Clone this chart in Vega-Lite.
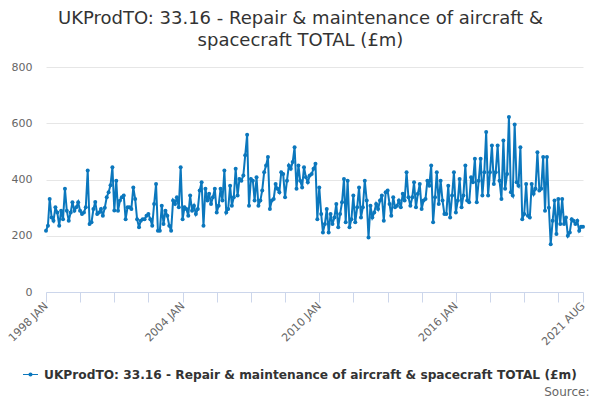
{
  "$schema": "https://vega.github.io/schema/vega-lite/v6.json",
  "width": 537,
  "height": 225,
  "autosize": "none",
  "padding": {"left": 46, "top": 67, "right": 17, "bottom": 108},
  "background": "white",
  "config": {
    "font": "DejaVu Sans",
    "view": {"stroke": null}
  },
  "title": {
    "text": ["UKProdTO: 33.16 - Repair & maintenance of aircraft &", "spacecraft TOTAL (£m)"],
    "fontSize": 18,
    "fontWeight": "normal",
    "color": "#333333",
    "anchor": "middle",
    "frame": "group",
    "dx": -14,
    "offset": 11,
    "lineHeight": 22
  },
  "data": {
    "values": [
      {"date": "1998-01-01", "value": 218}, {"date": "1998-02-01", "value": 236}, {"date": "1998-03-01", "value": 331}, {"date": "1998-04-01", "value": 265},
      {"date": "1998-05-01", "value": 253}, {"date": "1998-06-01", "value": 301}, {"date": "1998-07-01", "value": 283}, {"date": "1998-08-01", "value": 236},
      {"date": "1998-09-01", "value": 289}, {"date": "1998-10-01", "value": 259}, {"date": "1998-11-01", "value": 367}, {"date": "1998-12-01", "value": 289},
      {"date": "1999-01-01", "value": 253}, {"date": "1999-02-01", "value": 283}, {"date": "1999-03-01", "value": 319}, {"date": "1999-04-01", "value": 289},
      {"date": "1999-05-01", "value": 301}, {"date": "1999-06-01", "value": 319}, {"date": "1999-07-01", "value": 289}, {"date": "1999-08-01", "value": 277},
      {"date": "1999-09-01", "value": 283}, {"date": "1999-10-01", "value": 301}, {"date": "1999-11-01", "value": 432}, {"date": "1999-12-01", "value": 242},
      {"date": "2000-01-01", "value": 248}, {"date": "2000-02-01", "value": 295}, {"date": "2000-03-01", "value": 320}, {"date": "2000-04-01", "value": 277},
      {"date": "2000-05-01", "value": 283}, {"date": "2000-06-01", "value": 295}, {"date": "2000-07-01", "value": 271}, {"date": "2000-08-01", "value": 300},
      {"date": "2000-09-01", "value": 337}, {"date": "2000-10-01", "value": 355}, {"date": "2000-11-01", "value": 380}, {"date": "2000-12-01", "value": 444},
      {"date": "2001-01-01", "value": 290}, {"date": "2001-02-01", "value": 396}, {"date": "2001-03-01", "value": 289}, {"date": "2001-04-01", "value": 325},
      {"date": "2001-05-01", "value": 337}, {"date": "2001-06-01", "value": 343}, {"date": "2001-07-01", "value": 259}, {"date": "2001-08-01", "value": 301},
      {"date": "2001-09-01", "value": 301}, {"date": "2001-10-01", "value": 295}, {"date": "2001-11-01", "value": 372}, {"date": "2001-12-01", "value": 331},
      {"date": "2002-01-01", "value": 259}, {"date": "2002-02-01", "value": 230}, {"date": "2002-03-01", "value": 253}, {"date": "2002-04-01", "value": 259},
      {"date": "2002-05-01", "value": 259}, {"date": "2002-06-01", "value": 271}, {"date": "2002-07-01", "value": 277}, {"date": "2002-08-01", "value": 259},
      {"date": "2002-09-01", "value": 236}, {"date": "2002-10-01", "value": 313}, {"date": "2002-11-01", "value": 384}, {"date": "2002-12-01", "value": 218},
      {"date": "2003-01-01", "value": 218}, {"date": "2003-02-01", "value": 307}, {"date": "2003-03-01", "value": 242}, {"date": "2003-04-01", "value": 289},
      {"date": "2003-05-01", "value": 271}, {"date": "2003-06-01", "value": 236}, {"date": "2003-07-01", "value": 218}, {"date": "2003-08-01", "value": 325},
      {"date": "2003-09-01", "value": 313}, {"date": "2003-10-01", "value": 337}, {"date": "2003-11-01", "value": 301}, {"date": "2003-12-01", "value": 444},
      {"date": "2004-01-01", "value": 259}, {"date": "2004-02-01", "value": 301}, {"date": "2004-03-01", "value": 295}, {"date": "2004-04-01", "value": 271},
      {"date": "2004-05-01", "value": 343}, {"date": "2004-06-01", "value": 289}, {"date": "2004-07-01", "value": 307}, {"date": "2004-08-01", "value": 277},
      {"date": "2004-09-01", "value": 295}, {"date": "2004-10-01", "value": 361}, {"date": "2004-11-01", "value": 390}, {"date": "2004-12-01", "value": 236},
      {"date": "2005-01-01", "value": 367}, {"date": "2005-02-01", "value": 325}, {"date": "2005-03-01", "value": 349}, {"date": "2005-04-01", "value": 313},
      {"date": "2005-05-01", "value": 337}, {"date": "2005-06-01", "value": 367}, {"date": "2005-07-01", "value": 283}, {"date": "2005-08-01", "value": 307},
      {"date": "2005-09-01", "value": 367}, {"date": "2005-10-01", "value": 325}, {"date": "2005-11-01", "value": 432}, {"date": "2005-12-01", "value": 283},
      {"date": "2006-01-01", "value": 295}, {"date": "2006-02-01", "value": 378}, {"date": "2006-03-01", "value": 307}, {"date": "2006-04-01", "value": 337},
      {"date": "2006-05-01", "value": 438}, {"date": "2006-06-01", "value": 343}, {"date": "2006-07-01", "value": 402}, {"date": "2006-08-01", "value": 396},
      {"date": "2006-09-01", "value": 414}, {"date": "2006-10-01", "value": 486}, {"date": "2006-11-01", "value": 559}, {"date": "2006-12-01", "value": 307},
      {"date": "2007-01-01", "value": 402}, {"date": "2007-02-01", "value": 396}, {"date": "2007-03-01", "value": 325}, {"date": "2007-04-01", "value": 408},
      {"date": "2007-05-01", "value": 307}, {"date": "2007-06-01", "value": 325}, {"date": "2007-07-01", "value": 361}, {"date": "2007-08-01", "value": 426},
      {"date": "2007-09-01", "value": 450}, {"date": "2007-10-01", "value": 480}, {"date": "2007-11-01", "value": 295}, {"date": "2007-12-01", "value": 325},
      {"date": "2008-01-01", "value": 331}, {"date": "2008-02-01", "value": 384}, {"date": "2008-03-01", "value": 367}, {"date": "2008-04-01", "value": 355},
      {"date": "2008-05-01", "value": 426}, {"date": "2008-06-01", "value": 420}, {"date": "2008-07-01", "value": 337}, {"date": "2008-08-01", "value": 396},
      {"date": "2008-09-01", "value": 450}, {"date": "2008-10-01", "value": 438}, {"date": "2008-11-01", "value": 462}, {"date": "2008-12-01", "value": 515},
      {"date": "2009-01-01", "value": 367}, {"date": "2009-02-01", "value": 450}, {"date": "2009-03-01", "value": 396}, {"date": "2009-04-01", "value": 372},
      {"date": "2009-05-01", "value": 444}, {"date": "2009-06-01", "value": 408}, {"date": "2009-07-01", "value": 390}, {"date": "2009-08-01", "value": 414},
      {"date": "2009-09-01", "value": 420}, {"date": "2009-10-01", "value": 438}, {"date": "2009-11-01", "value": 456}, {"date": "2009-12-01", "value": 259},
      {"date": "2010-01-01", "value": 372}, {"date": "2010-02-01", "value": 277}, {"date": "2010-03-01", "value": 212}, {"date": "2010-04-01", "value": 242},
      {"date": "2010-05-01", "value": 295}, {"date": "2010-06-01", "value": 212}, {"date": "2010-07-01", "value": 277}, {"date": "2010-08-01", "value": 242},
      {"date": "2010-09-01", "value": 265}, {"date": "2010-10-01", "value": 313}, {"date": "2010-11-01", "value": 230}, {"date": "2010-12-01", "value": 277},
      {"date": "2011-01-01", "value": 319}, {"date": "2011-02-01", "value": 402}, {"date": "2011-03-01", "value": 248}, {"date": "2011-04-01", "value": 396},
      {"date": "2011-05-01", "value": 230}, {"date": "2011-06-01", "value": 259}, {"date": "2011-07-01", "value": 343}, {"date": "2011-08-01", "value": 248},
      {"date": "2011-09-01", "value": 301}, {"date": "2011-10-01", "value": 372}, {"date": "2011-11-01", "value": 265}, {"date": "2011-12-01", "value": 301},
      {"date": "2012-01-01", "value": 396}, {"date": "2012-02-01", "value": 325}, {"date": "2012-03-01", "value": 194}, {"date": "2012-04-01", "value": 307},
      {"date": "2012-05-01", "value": 265}, {"date": "2012-06-01", "value": 283}, {"date": "2012-07-01", "value": 313}, {"date": "2012-08-01", "value": 295},
      {"date": "2012-09-01", "value": 325}, {"date": "2012-10-01", "value": 343}, {"date": "2012-11-01", "value": 253}, {"date": "2012-12-01", "value": 355},
      {"date": "2013-01-01", "value": 361}, {"date": "2013-02-01", "value": 313}, {"date": "2013-03-01", "value": 271}, {"date": "2013-04-01", "value": 337},
      {"date": "2013-05-01", "value": 301}, {"date": "2013-06-01", "value": 307}, {"date": "2013-07-01", "value": 325}, {"date": "2013-08-01", "value": 301},
      {"date": "2013-09-01", "value": 349}, {"date": "2013-10-01", "value": 325}, {"date": "2013-11-01", "value": 426}, {"date": "2013-12-01", "value": 337},
      {"date": "2014-01-01", "value": 307}, {"date": "2014-02-01", "value": 337}, {"date": "2014-03-01", "value": 390}, {"date": "2014-04-01", "value": 301},
      {"date": "2014-05-01", "value": 349}, {"date": "2014-06-01", "value": 384}, {"date": "2014-07-01", "value": 295}, {"date": "2014-08-01", "value": 325},
      {"date": "2014-09-01", "value": 331}, {"date": "2014-10-01", "value": 396}, {"date": "2014-11-01", "value": 378}, {"date": "2014-12-01", "value": 450},
      {"date": "2015-01-01", "value": 248}, {"date": "2015-02-01", "value": 337}, {"date": "2015-03-01", "value": 426}, {"date": "2015-04-01", "value": 313},
      {"date": "2015-05-01", "value": 396}, {"date": "2015-06-01", "value": 325}, {"date": "2015-07-01", "value": 277}, {"date": "2015-08-01", "value": 277},
      {"date": "2015-09-01", "value": 378}, {"date": "2015-10-01", "value": 265}, {"date": "2015-11-01", "value": 343}, {"date": "2015-12-01", "value": 426},
      {"date": "2016-01-01", "value": 283}, {"date": "2016-02-01", "value": 325}, {"date": "2016-03-01", "value": 402}, {"date": "2016-04-01", "value": 301},
      {"date": "2016-05-01", "value": 343}, {"date": "2016-06-01", "value": 450}, {"date": "2016-07-01", "value": 325}, {"date": "2016-08-01", "value": 319},
      {"date": "2016-09-01", "value": 408}, {"date": "2016-10-01", "value": 390}, {"date": "2016-11-01", "value": 474}, {"date": "2016-12-01", "value": 319},
      {"date": "2017-01-01", "value": 396}, {"date": "2017-02-01", "value": 474}, {"date": "2017-03-01", "value": 343}, {"date": "2017-04-01", "value": 426},
      {"date": "2017-05-01", "value": 569}, {"date": "2017-06-01", "value": 343}, {"date": "2017-07-01", "value": 426}, {"date": "2017-08-01", "value": 521},
      {"date": "2017-09-01", "value": 384}, {"date": "2017-10-01", "value": 426}, {"date": "2017-11-01", "value": 521}, {"date": "2017-12-01", "value": 396},
      {"date": "2018-01-01", "value": 331}, {"date": "2018-02-01", "value": 539}, {"date": "2018-03-01", "value": 367}, {"date": "2018-04-01", "value": 420},
      {"date": "2018-05-01", "value": 622}, {"date": "2018-06-01", "value": 355}, {"date": "2018-07-01", "value": 343}, {"date": "2018-08-01", "value": 596},
      {"date": "2018-09-01", "value": 390}, {"date": "2018-10-01", "value": 378}, {"date": "2018-11-01", "value": 515}, {"date": "2018-12-01", "value": 259},
      {"date": "2019-01-01", "value": 277}, {"date": "2019-02-01", "value": 384}, {"date": "2019-03-01", "value": 271}, {"date": "2019-04-01", "value": 265},
      {"date": "2019-05-01", "value": 384}, {"date": "2019-06-01", "value": 349}, {"date": "2019-07-01", "value": 367}, {"date": "2019-08-01", "value": 497},
      {"date": "2019-09-01", "value": 361}, {"date": "2019-10-01", "value": 367}, {"date": "2019-11-01", "value": 480}, {"date": "2019-12-01", "value": 289},
      {"date": "2020-01-01", "value": 480}, {"date": "2020-02-01", "value": 300}, {"date": "2020-03-01", "value": 170}, {"date": "2020-04-01", "value": 253},
      {"date": "2020-05-01", "value": 325}, {"date": "2020-06-01", "value": 206}, {"date": "2020-07-01", "value": 331}, {"date": "2020-08-01", "value": 242},
      {"date": "2020-09-01", "value": 331}, {"date": "2020-10-01", "value": 242}, {"date": "2020-11-01", "value": 265}, {"date": "2020-12-01", "value": 200},
      {"date": "2021-01-01", "value": 212}, {"date": "2021-02-01", "value": 259}, {"date": "2021-03-01", "value": 253}, {"date": "2021-04-01", "value": 242},
      {"date": "2021-05-01", "value": 253}, {"date": "2021-06-01", "value": 218}, {"date": "2021-07-01", "value": 232}, {"date": "2021-08-01", "value": 232}
    ]
  },
  "mark": {
    "type": "line",
    "strokeWidth": 2,
    "point": {"filled": true, "size": 16}
  },
  "encoding": {
    "x": {
      "field": "date",
      "type": "temporal",
      "scale": {
        "type": "utc",
        "domain": [{"year": 1998, "month": 1, "date": 1, "utc": true}, {"year": 2021, "month": 8, "date": 1, "utc": true}],
        "nice": false
      },
      "axis": {
        "title": "Source:",
        "titleFontSize": 12,
        "titleFontWeight": "normal",
        "titleColor": "#666666",
        "titleAnchor": "end",
        "titleAlign": "right",
        "titleX": 543,
        "titleY": 103,
        "titleBaseline": "alphabetic",
        "values": [
          {"year": 1998, "month": 1, "date": 1, "utc": true},
          {"year": 1999, "month": 7, "date": 1, "utc": true},
          {"year": 2001, "month": 1, "date": 1, "utc": true},
          {"year": 2002, "month": 7, "date": 1, "utc": true},
          {"year": 2004, "month": 1, "date": 1, "utc": true},
          {"year": 2005, "month": 7, "date": 1, "utc": true},
          {"year": 2007, "month": 1, "date": 1, "utc": true},
          {"year": 2008, "month": 7, "date": 1, "utc": true},
          {"year": 2010, "month": 1, "date": 1, "utc": true},
          {"year": 2011, "month": 7, "date": 1, "utc": true},
          {"year": 2013, "month": 1, "date": 1, "utc": true},
          {"year": 2014, "month": 7, "date": 1, "utc": true},
          {"year": 2016, "month": 1, "date": 1, "utc": true},
          {"year": 2017, "month": 7, "date": 1, "utc": true},
          {"year": 2019, "month": 1, "date": 1, "utc": true},
          {"year": 2020, "month": 7, "date": 1, "utc": true},
          {"year": 2021, "month": 8, "date": 1, "utc": true}
        ],
        "labelExpr": "(utcmonth(datum.value) == 0 && (utcyear(datum.value) - 1998) % 6 == 0) || (utcyear(datum.value) == 2021 && utcmonth(datum.value) == 7) ? utcFormat(datum.value, '%Y ') + upper(utcFormat(datum.value, '%b')) : ''",
        "labelAngle": -45,
        "labelAlign": "right",
        "labelBaseline": "middle",
        "labelFontSize": 11,
        "labelColor": "#666666",
        "labelOverlap": false,
        "labelBound": false,
        "labelFlush": false,
        "labelPadding": 2,
        "grid": false,
        "domainColor": "#ccd6eb",
        "tickColor": "#ccd6eb",
        "tickSize": 10
      }
    },
    "y": {
      "field": "value",
      "type": "quantitative",
      "scale": {"domain": [0, 800], "nice": false},
      "axis": {
        "title": null,
        "values": [0, 200, 400, 600, 800],
        "ticks": false,
        "domain": false,
        "gridColor": "#e6e6e6",
        "labelFontSize": 11,
        "labelColor": "#666666",
        "labelPadding": 14
      }
    },
    "color": {
      "datum": "UKProdTO: 33.16 - Repair & maintenance of aircraft & spacecraft TOTAL (£m)",
      "type": "nominal",
      "scale": {"range": ["#0b77bd"]},
      "legend": {
        "title": null,
        "orient": "none",
        "legendX": -23,
        "legendY": 300,
        "padding": 0,
        "symbolType": "M-1,-0.07H1V0.07H-1Z M-0.27,0A0.27,0.27,0,1,1,0.27,0A0.27,0.27,0,1,1,-0.27,0Z",
        "symbolSize": 225,
        "symbolFillColor": "#0b77bd",
        "symbolStrokeColor": "#0b77bd",
        "symbolStrokeWidth": 0,
        "labelFontSize": 12.2,
        "labelFontWeight": "bold",
        "labelColor": "#333333",
        "labelLimit": 600,
        "labelOffset": 6
      }
    }
  }
}
